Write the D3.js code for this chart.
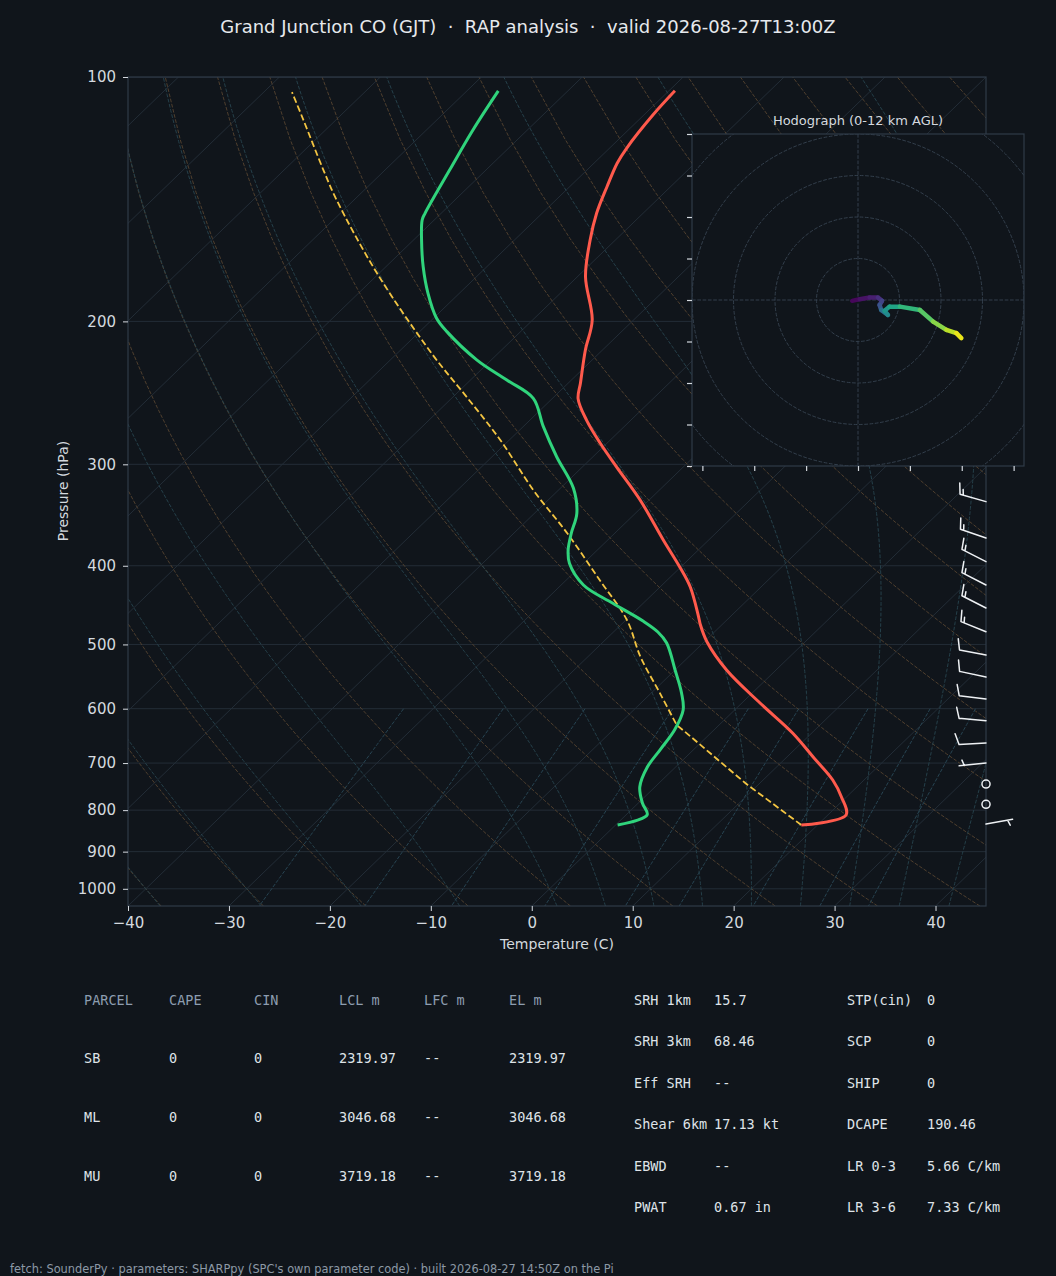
<!DOCTYPE html>
<html lang="en">
<head>
<meta charset="utf-8">
<title>skew-T GJT</title>
<script src="https://cdn.jsdelivr.net/npm/d3@7"></script>
<style>
body { margin: 0; background: #10151b; }
svg { display: block; }
</style>
</head>
<body>
<div id="chart"></div>
<script>

// ---- sounding data (hPa, degC) ----
var tempP = [104.0,111.4,122.4,127.7,136.5,147.2,158.8,176.2,199.2,216.9,238.2,249.2,264.6,282.4,302.3,331.9,371.8,401.4,424.9,462.6,473.2,496.6,537.6,590.4,642.8,688.1,734.5,770.7,811.1,834.5]
var tempT = [-69.4,-69.1,-68.3,-67.7,-66.3,-64.6,-62.5,-59.2,-54.1,-51.7,-48.8,-47.4,-44.4,-40.7,-36.6,-30.9,-24.5,-20.1,-17.0,-13.1,-12.1,-9.7,-4.9,1.8,8.1,12.6,16.9,19.5,21.8,18.4]

var dwptP = [104.0,116.2,130.2,147.2,150.0,158.8,171.3,184.7,198.2,205.9,223.2,236.2,248.8,269.6,293.6,321.1,344.7,364.8,382.5,397.3,422.4,445.0,467.9,482.7,498.0,537.6,573.9,602.2,637.4,674.6,707.9,749.2,784.0,811.1,834.5]
var dwptT = [-86.9,-85.4,-83.6,-81.6,-81.2,-79.2,-76.3,-73.1,-69.7,-67.3,-61.4,-56.4,-51.9,-48.0,-43.6,-38.7,-35.8,-34.3,-32.9,-31.4,-27.8,-23.0,-18.2,-15.6,-13.6,-10.0,-7.0,-5.1,-3.9,-3.3,-2.8,-1.5,0.4,2.1,0.2]

// surface parcel: dry leg up to the LCL, then the moist leg
var parcelDryP = [834.5,741.4,649.6,628.4]
var parcelDryT = [18.4,8.6,-1.6,-4.2]
var parcelMoistP = [628.4,574.4,517.7,466.5,416.5,364.8,322.7,280.0,247.6,220.0,174.5,141.8,130.2,113.0,104.4]
var parcelMoistT = [-4.2,-9.1,-14.8,-19.9,-26.7,-34.7,-42.5,-50.9,-58.7,-66.3,-80.2,-91.7,-96.1,-103.2,-107.2]

// wind barbs (kt, direction wind comes from)
var barbP   = [333.5,369.7,395.4,422.4,450.9,482.3,515.3,548.4,583.7,620.8,661.3,699.9,742.9,786.9,832.1]
var barbSpd = [15,15,15,15,15,15,10,10,10,10,10,5,0,0,5]
var barbDir = [286,289,297,297,297,292,281,282,277,275,267,264,0,0,80]

// hodograph (u, v and height km)
var hodoU = [-1.4,0.4,2.8,4.8,5.8,5.2,5.6,7.2,6.4,7.6,10.1,14.9,18.1,21.3,23.7,24.9]
var hodoV = [-0.2,0.2,0.6,0.6,-0.2,-1.2,-2.4,-3.6,-2.6,-1.6,-1.6,-2.4,-5.2,-7.2,-8.0,-9.2]
var hodoZ = [0,0.4,0.8,1.2,2.0,2.8,3.4,5.4,6.0,6.6,7.4,8.4,9.4,10.3,11.2,12.0]

var pressureTicks = [100,200,300,400,500,600,700,800,900,1000]
var tempTicks = [-40,-30,-20,-10,0,10,20,30,40]
var hodoTicksY = [-40,-30,-20,-10,0,10,20,30,40]
var hodoTicksX = [-37.5,-25,-12.5,0,12.5,25,37.5]
var hodoRings = [10,20,30,40,50]

var parcelHeader = ["PARCEL","CAPE","CIN","LCL m","LFC m","EL m"]
var parcelRows = [
    ["SB","0","0","2319.97","--","2319.97"],
    ["ML","0","0","3046.68","--","3046.68"],
    ["MU","0","0","3719.18","--","3719.18"]
]
var indexLeft = [["SRH 1km","15.7"],["SRH 3km","68.46"],["Eff SRH","--"],["Shear 6km","17.13 kt"],["EBWD","--"],["PWAT","0.67 in"]]
var indexRight = [["STP(cin)","0"],["SCP","0"],["SHIP","0"],["DCAPE","190.46"],["LR 0-3","5.66 C/km"],["LR 3-6","7.33 C/km"]]

var titleText = "Grand Junction CO (GJT)  \u00b7  RAP analysis  \u00b7  valid 2026-08-27T13:00Z"
var footerText = "fetch: SounderPy \u00b7 parameters: SHARPpy (SPC's own parameter code) \u00b7 built 2026-08-27 14:50Z on the Pi"

var bg = "#10151b"
var svg = d3.select("#chart").append("svg")
    .attr("width",1056)
    .attr("height",1276)
svg.append("rect").attr("width",1056).attr("height",1276).attr("fill",bg)

var x = d3.scaleLinear().domain([-40,45]).range([128,986])
var y = d3.scaleLog().domain([1050,100]).range([906,77])
// 45 deg skew in axes coordinates
var skew = (x.range()[1]-x.range()[0])/(y.range()[0]-y.range()[1])
function sx(t,p){ return x(t) + skew*(y(1050)-y(p)) }

var skewLine = d3.line()
    .x(function(d){ return sx(d[1],d[0]) })
    .y(function(d){ return y(d[0]) })
var smooth = d3.line()
    .x(function(d){ return sx(d[1],d[0]) })
    .y(function(d){ return y(d[0]) })
    .curve(d3.curveCatmullRom.alpha(0.5))

svg.append("clipPath").attr("id","plotclip")
    .append("rect").attr("x",128).attr("y",77).attr("width",858).attr("height",829)

var bgLines = svg.append("g").attr("clip-path","url(#plotclip)").attr("fill","none")

// isobars
bgLines.selectAll(".isobar")
    .data(pressureTicks)
    .enter().append("line")
    .attr("x1",128).attr("x2",986)
    .attr("y1",function(d){ return y(d) })
    .attr("y2",function(d){ return y(d) })
    .attr("stroke","#232d37").attr("stroke-width",1)

// isotherms
bgLines.selectAll(".isotherm")
    .data(d3.range(-130,50,10))
    .enter().append("line")
    .attr("x1",function(d){ return sx(d,1050) })
    .attr("y1",y(1050))
    .attr("x2",function(d){ return sx(d,100) })
    .attr("y2",y(100))
    .attr("stroke","#232d37").attr("stroke-width",1)

var pLevels = d3.range(0,50).map(function(i){ return 1050 - i*950/49 })

// dry adiabats
var dryT0 = d3.range(-40,246,10)
bgLines.selectAll(".dry")
    .data(dryT0)
    .enter().append("path")
    .attr("d",function(t0){
        return skewLine(pLevels.map(function(p){
            return [p,(t0+273.15)*Math.pow(p/1000,0.2857)-273.15]
        }))
    })
    .attr("stroke","#4f3f2e").attr("stroke-width",1).attr("stroke-dasharray","3.7,1.6")

// moist adiabats
function dTdp(p,T){
    var es = 6.112*Math.exp(17.67*(T-273.15)/(T-29.65))
    var rs = 0.621957*es/(p-es)
    return (287.04749*T + 2.50084e6*rs)/(p*(1004.6662 + 2.50084e6*2.50084e6*rs*0.621957/(287.04749*T*T)))
}
function moist(t0){
    function run(pEnd,h){
        var p = 1000, T = t0+273.15, pts = []
        while ((h<0 && p>pEnd) || (h>0 && p<pEnd)){
            var k1 = dTdp(p,T), k2 = dTdp(p+h/2,T+h/2*k1), k3 = dTdp(p+h/2,T+h/2*k2), k4 = dTdp(p+h,T+h*k3)
            T = T + h/6*(k1+2*k2+2*k3+k4)
            p = p + h
            pts.push([p,T-273.15])
        }
        return pts
    }
    var down = run(1050,5).reverse()
    var up = run(100,-5)
    return down.concat([[1000,t0]]).concat(up)
}
var moistT0 = d3.range(-40,0,10).concat(d3.range(0,46,5))
bgLines.selectAll(".moist")
    .data(moistT0)
    .enter().append("path")
    .attr("d",function(t0){ return skewLine(moist(t0)) })
    .attr("stroke","#25404a").attr("stroke-width",1).attr("stroke-dasharray","3.7,1.6")

// mixing ratio lines
var mixW = [0.0004,0.001,0.002,0.004,0.007,0.01,0.016,0.024,0.032]
var mixP = d3.range(0,50).map(function(i){ return 600 + i*450/49 })
bgLines.selectAll(".mix")
    .data(mixW)
    .enter().append("path")
    .attr("d",function(w){
        return skewLine(mixP.map(function(p){
            var e = p*w/(0.621957+w)
            var v = Math.log(e/6.112)
            return [p,243.5*v/(17.67-v)]
        }))
    })
    .attr("stroke","#274452").attr("stroke-width",1).attr("stroke-dasharray","3.7,1.6")

// ---- profiles ----
var prof = svg.append("g").attr("clip-path","url(#plotclip)").attr("fill","none")
prof.append("path")
    .attr("d",skewLine(d3.zip(parcelDryP,parcelDryT)) + smooth(d3.zip(parcelMoistP,parcelMoistT)).replace(/^M/,"L"))
    .attr("stroke","#f4c542").attr("stroke-width",1.8).attr("stroke-dasharray","6.5,3")
prof.append("path")
    .attr("d",smooth(d3.zip(tempP,tempT)))
    .attr("stroke","#ff5a4c").attr("stroke-width",3).attr("stroke-linejoin","round")
prof.append("path")
    .attr("d",smooth(d3.zip(dwptP,dwptT)))
    .attr("stroke","#30d47c").attr("stroke-width",3).attr("stroke-linejoin","round")

// frame
svg.append("rect").attr("x",128).attr("y",77).attr("width",858).attr("height",829)
    .attr("fill","none").attr("stroke","#2f3b48").attr("stroke-width",1.2)

// axes
var tickColor = "#d4d9df"
var yAxis = svg.append("g").attr("transform","translate(128,0)")
    .call(d3.axisLeft(y).tickValues(pressureTicks).tickFormat(d3.format("d")).tickSize(5).tickPadding(7))
var xAxis = svg.append("g").attr("transform","translate(0,906)")
    .call(d3.axisBottom(x).tickValues(tempTicks).tickSize(5).tickPadding(6))
;[yAxis,xAxis].forEach(function(g){
    g.select(".domain").remove()
    g.selectAll("line").attr("stroke",tickColor)
    g.selectAll("text").attr("fill",tickColor).attr("font-family","DejaVu Sans").attr("font-size",15)
})

svg.append("text")
    .attr("transform","translate(63,491) rotate(-90)")
    .attr("text-anchor","middle").attr("dy","0.35em")
    .attr("font-family","DejaVu Sans").attr("font-size",14).attr("fill",tickColor)
    .text("Pressure (hPa)")
svg.append("text")
    .attr("x",557).attr("y",944).attr("dy","0.35em")
    .attr("text-anchor","middle")
    .attr("font-family","DejaVu Sans").attr("font-size",14).attr("fill",tickColor)
    .text("Temperature (C)")

svg.append("text")
    .attr("x",528).attr("y",27).attr("dy","0.36em")
    .attr("text-anchor","middle").style("white-space","pre")
    .attr("font-family","DejaVu Sans").attr("font-size",18).attr("fill","#e6e9ed")
    .text(titleText)

// ---- wind barbs ----
var L = 27, barbH = 0.4*L, barbW = 0.25*L, barbS = 0.125*L
var barbs = svg.append("g").attr("stroke","#eef1f4").attr("stroke-width",1.5).attr("fill","none")
    .attr("stroke-linecap","round").attr("stroke-linejoin","round")
barbP.forEach(function(p,i){
    var bx = x.range()[1], by = y(p)
    var spd = barbSpd[i]
    if (spd < 2.5) {
        barbs.append("circle").attr("cx",bx).attr("cy",by).attr("r",0.15*L)
        return
    }
    var a = barbDir[i]*Math.PI/180
    // staff points to where the wind comes from (screen coords, y down)
    var dx = Math.sin(a), dy = -Math.cos(a)
    var px = -dy, py = dx
    var tipx = bx + dx*L, tipy = by + dy*L
    var path = d3.path()
    path.moveTo(bx,by); path.lineTo(tipx,tipy)
    var full = Math.floor((spd+2.5)/10), half = (Math.round(spd/5)%2)
    var off = L
    for (var k=0;k<full;k++){
        var sxp = bx + dx*off, syp = by + dy*off
        path.moveTo(sxp,syp)
        path.lineTo(sxp + px*barbH + dx*barbW/2, syp + py*barbH + dy*barbW/2)
        off -= barbS
    }
    if (half){
        if (off === L) off -= 1.5*barbS
        var hx0 = bx + dx*off, hy0 = by + dy*off
        path.moveTo(hx0,hy0)
        path.lineTo(hx0 + px*barbH/2 + dx*barbW/4, hy0 + py*barbH/2 + dy*barbW/4)
    }
    barbs.append("path").attr("d",path.toString())
})

// ---- hodograph inset ----
var hx = d3.scaleLinear().domain([-40,40]).range([692,1024])
var hy = d3.scaleLinear().domain([-40,40]).range([466,134])
var hodo = svg.append("g")
hodo.append("rect").attr("x",692).attr("y",134).attr("width",332).attr("height",332)
    .attr("fill",bg)
svg.append("clipPath").attr("id","hodoclip")
    .append("rect").attr("x",692).attr("y",134).attr("width",332).attr("height",332)
var hg = hodo.append("g").attr("clip-path","url(#hodoclip)").attr("fill","none")
hg.selectAll(".ring")
    .data(hodoRings)
    .enter().append("circle")
    .attr("cx",hx(0)).attr("cy",hy(0))
    .attr("r",function(d){ return hx(d)-hx(0) })
    .attr("stroke","#333f4c").attr("stroke-width",1).attr("stroke-dasharray","3.7,1.6")
hg.append("line").attr("x1",692).attr("x2",1024).attr("y1",hy(0)).attr("y2",hy(0))
    .attr("stroke","#333f4c").attr("stroke-dasharray","3.7,1.6")
hg.append("line").attr("y1",134).attr("y2",466).attr("x1",hx(0)).attr("x2",hx(0))
    .attr("stroke","#333f4c").attr("stroke-dasharray","3.7,1.6")
for (var i=0;i<hodoU.length-1;i++){
    hg.append("line")
        .attr("x1",hx(hodoU[i])).attr("y1",hy(hodoV[i]))
        .attr("x2",hx(hodoU[i+1])).attr("y2",hy(hodoV[i+1]))
        .attr("stroke",d3.interpolateViridis((hodoZ[i]+hodoZ[i+1])/24))
        .attr("stroke-width",4.5).attr("stroke-linecap","round")
}
hodo.append("rect").attr("x",692).attr("y",134).attr("width",332).attr("height",332)
    .attr("fill","none").attr("stroke","#2f3b48").attr("stroke-width",1.2)
var hya = hodo.append("g").attr("transform","translate(692,0)")
    .call(d3.axisLeft(hy).tickValues(hodoTicksY).tickFormat("").tickSize(5))
var hxa = hodo.append("g").attr("transform","translate(0,466)")
    .call(d3.axisBottom(hx).tickValues(hodoTicksX).tickFormat("").tickSize(5))
;[hya,hxa].forEach(function(g){
    g.select(".domain").remove()
    g.selectAll("line").attr("stroke",tickColor).attr("stroke-width",1.2)
})
hodo.append("text")
    .attr("x",858).attr("y",120).attr("dy","0.35em").attr("text-anchor","middle")
    .attr("font-family","DejaVu Sans").attr("font-size",13).attr("fill","#d4d9df")
    .text("Hodograph (0-12 km AGL)")

// ---- parameter tables ----
var mono = "DejaVu Sans Mono"
var colX = [84,169,254,339,424,509]
var t1 = svg.append("g").attr("font-family",mono).attr("font-size",13.5).style("white-space","pre")
parcelHeader.forEach(function(h,j){
    t1.append("text").attr("x",colX[j]).attr("y",1000).attr("dy","0.35em")
        .attr("fill","#8d9db0").text(h)
})
parcelRows.forEach(function(r,i){
    r.forEach(function(c,j){
        t1.append("text").attr("x",colX[j]).attr("y",1058.5+i*59).attr("dy","0.35em")
            .attr("fill","#dfe3e8").text(c)
    })
})
var rowY = d3.range(6).map(function(i){ return 1000 + i*41.5 })
;[[indexLeft,634,714],[indexRight,847,927]].forEach(function(set){
    set[0].forEach(function(r,i){
        t1.append("text").attr("x",set[1]).attr("y",rowY[i]).attr("dy","0.35em").attr("fill","#dfe3e8").text(r[0])
        t1.append("text").attr("x",set[2]).attr("y",rowY[i]).attr("dy","0.35em").attr("fill","#dfe3e8").text(r[1])
    })
})

svg.append("text")
    .attr("x",10).attr("y",1269).attr("dy","0.35em")
    .attr("font-family","DejaVu Sans").attr("font-size",11.4).attr("fill","#8d99a6")
    .text(footerText)

</script>
</body>
</html>
